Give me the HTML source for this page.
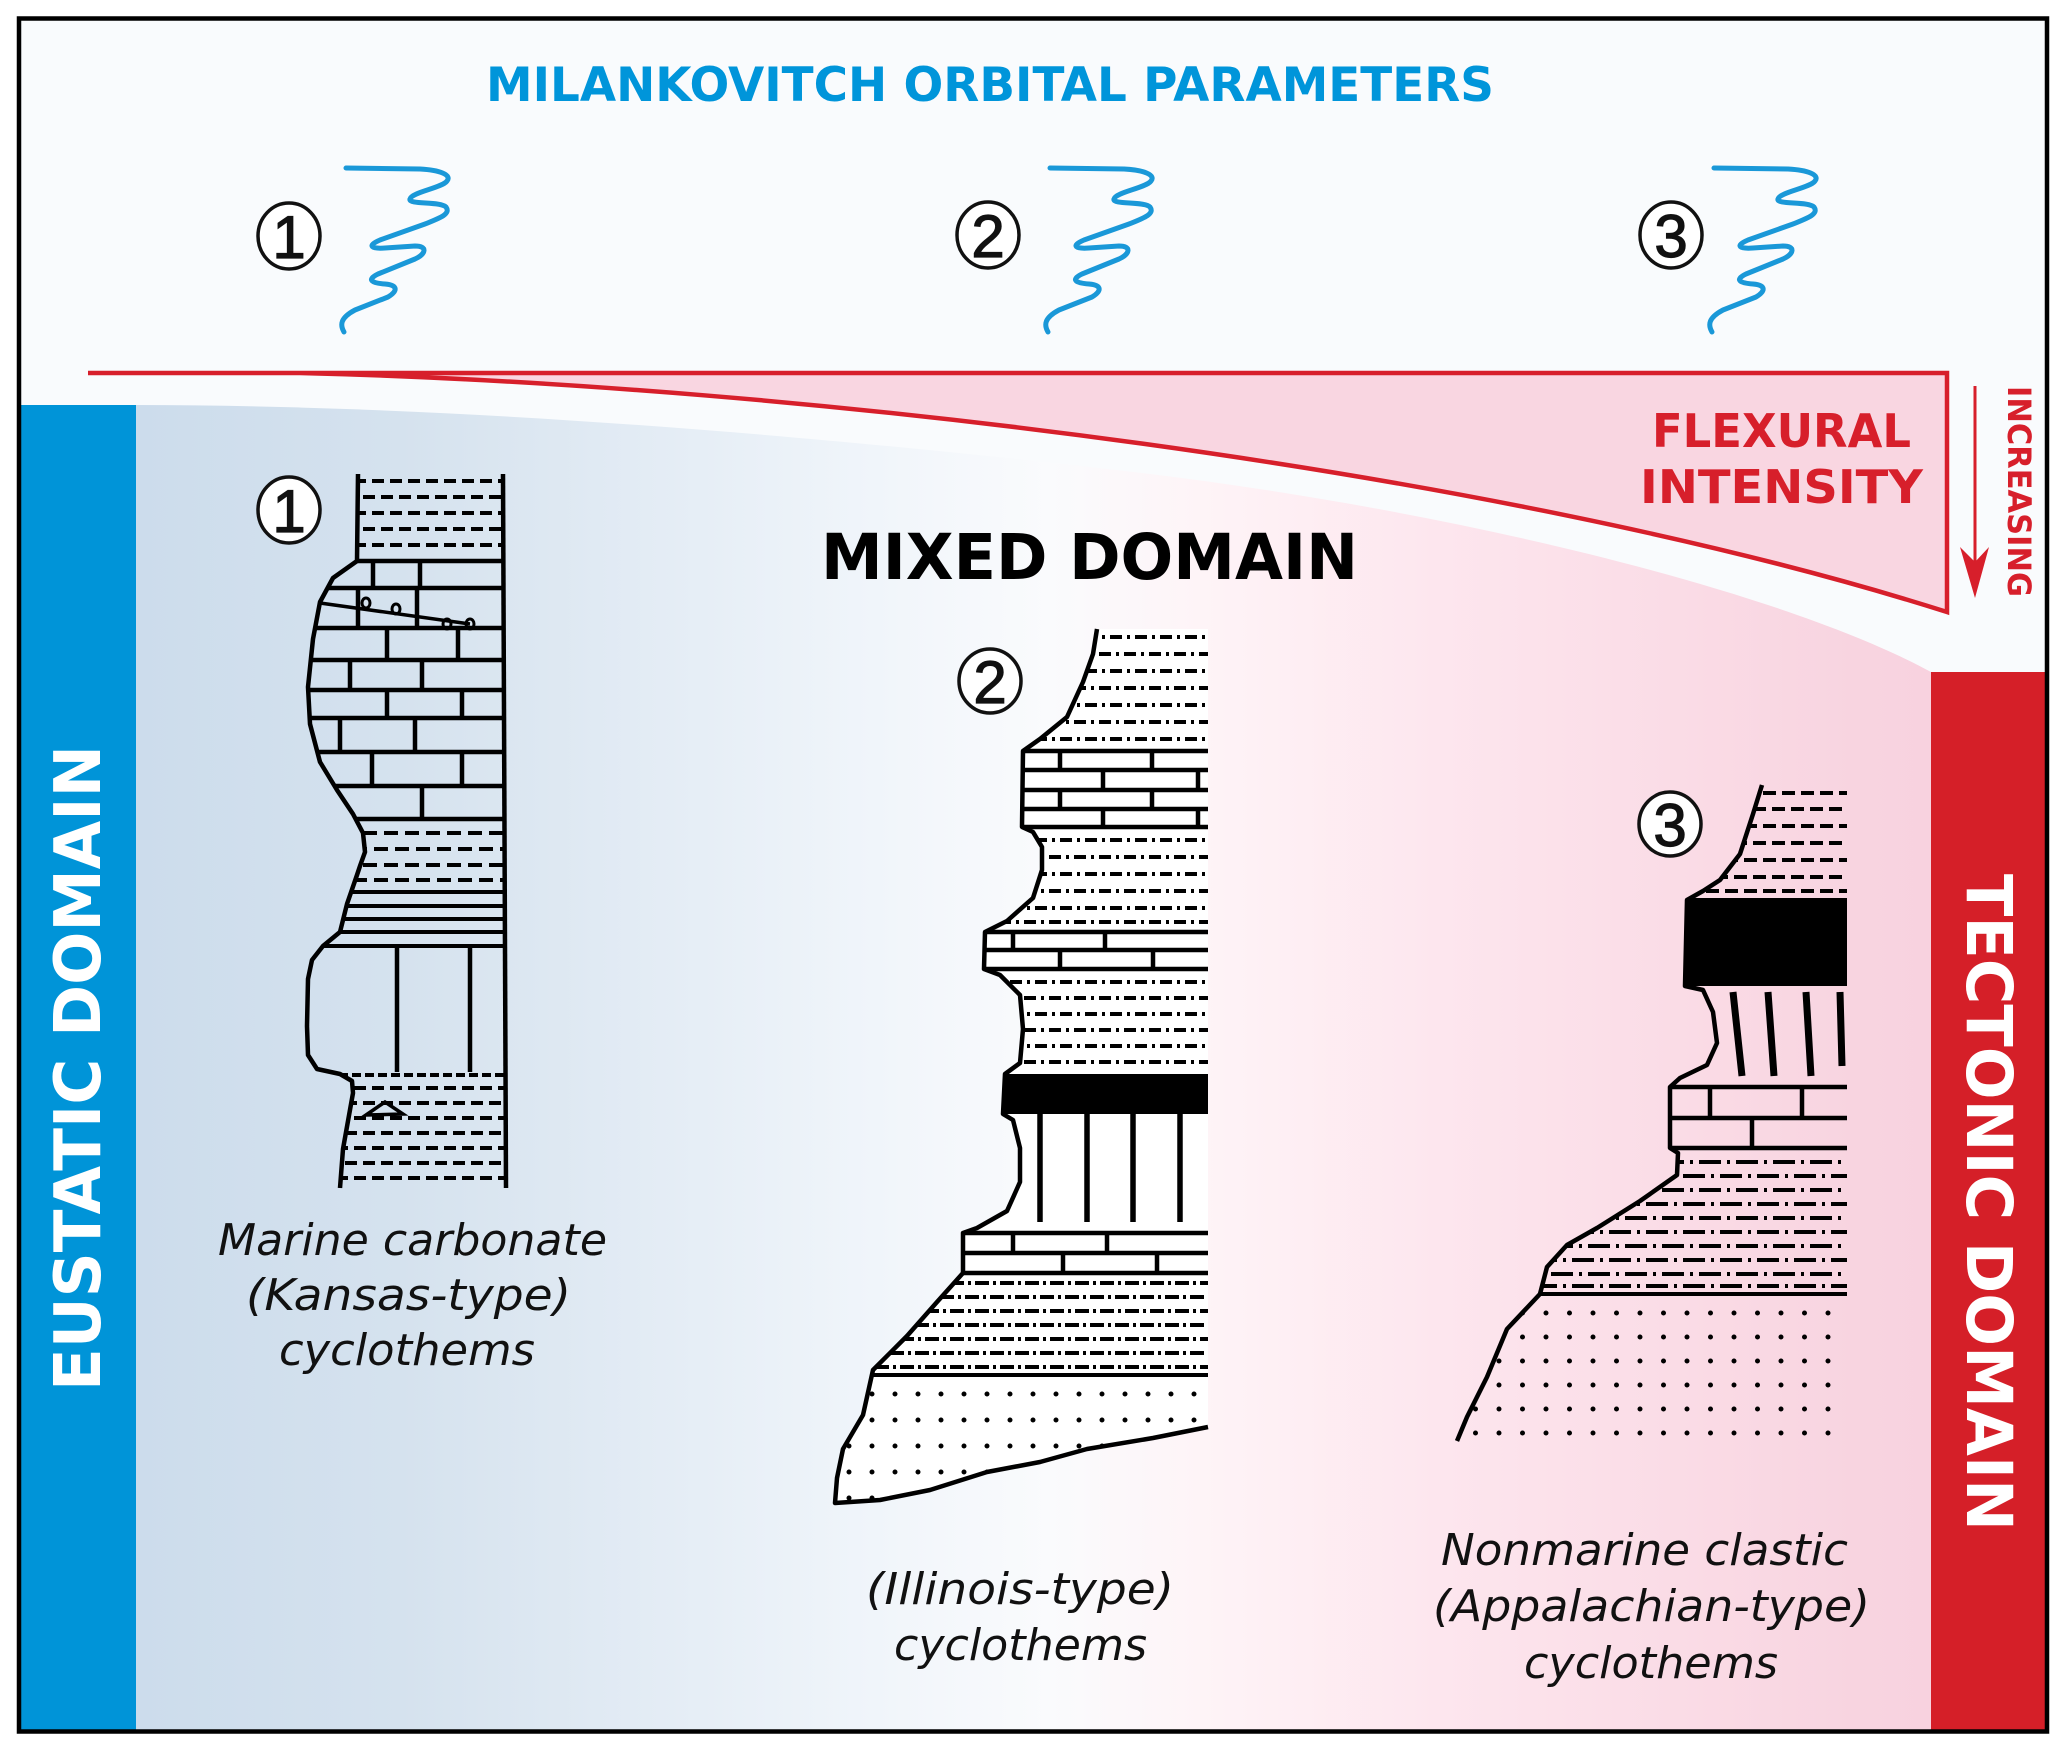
<!DOCTYPE html>
<html><head><meta charset="utf-8"><style>
html,body{margin:0;padding:0;background:#fff;}
svg{display:block;}
</style></head><body>
<svg xmlns="http://www.w3.org/2000/svg" width="2067" height="1753" viewBox="0 0 2067 1753">
<defs>
<linearGradient id="bg" gradientUnits="userSpaceOnUse" x1="136" y1="0" x2="1931" y2="0">
<stop offset="0" stop-color="#ccdcec"/>
<stop offset="0.147" stop-color="#d5e2ee"/>
<stop offset="0.275" stop-color="#e2ebf4"/>
<stop offset="0.381" stop-color="#edf3f9"/>
<stop offset="0.509" stop-color="#fafbfd"/>
<stop offset="0.593" stop-color="#fef4f7"/>
<stop offset="0.726" stop-color="#fde6ee"/>
<stop offset="0.96" stop-color="#f8d4e0"/>
<stop offset="1" stop-color="#f8d2df"/>
</linearGradient>
<clipPath id="c1"><polygon points="358,474 357,561 333,578 320,602 313,639 308,687 310,724 320,762 337,790 353,814 363,833 365,852 360,866 357,875 347,904 340,932 323,946 312,960 308,979 307,1026 308,1055 317,1069 340,1074 352,1081 353,1093 348,1121 343,1149 340,1188 506,1188 503,474"/></clipPath>
<clipPath id="c2"><polygon points="1097,629 1093,654 1083,682 1067,717 1040,739 1023,751 1022,827 1033,832 1042,847 1042,870 1033,898 1007,921 985,932 984,969 1000,975 1020,995 1023,1029 1020,1063 1005,1074 1003,1114 1013,1120 1020,1148 1020,1182 1007,1211 977,1228 963,1233 963,1273 937,1302 907,1336 873,1370 863,1415 843,1449 837,1478 835,1503 880,1500 930,1490 987,1472 1040,1462 1087,1449 1153,1438 1208,1427 1208,629"/></clipPath>
<clipPath id="c3"><polygon points="1762,785 1753,814 1740,854 1720,880 1703,891 1687,900 1685,986 1703,990 1713,1012 1717,1043 1707,1065 1680,1078 1670,1087 1670,1148 1678,1153 1677,1175 1640,1201 1597,1228 1567,1245 1547,1267 1540,1294 1507,1329 1487,1377 1467,1417 1457,1441 1457,1443 1847,1443 1847,785"/></clipPath>
</defs>

<!-- background -->
<rect x="0" y="0" width="2067" height="1753" fill="#ffffff"/>
<rect x="19" y="18" width="2028" height="1713" fill="#f9fbfd"/>

<!-- gradient panel -->
<path d="M136,405 C500,405 900,445 1142,473 C1450,510 1780,590 1931,672 L1931,1733 L136,1733 Z" fill="url(#bg)"/>

<!-- side bars -->
<rect x="20" y="405" width="116" height="1327" fill="#0094d8"/>
<rect x="1931" y="672" width="116" height="1060" fill="#d51f28"/>

<!-- flexural wedge -->
<path d="M88,373 L1947,373 L1947,612 C1500,470 800,385 300,373 Z" fill="#f9d6e1" stroke="#d71f2b" stroke-width="4.5" stroke-linejoin="miter"/>

<!-- arrow -->
<line x1="1975" y1="386" x2="1975" y2="565" stroke="#d71f2b" stroke-width="3"/>
<polygon points="1960,547 1975,562 1989,547 1975,598" fill="#d71f2b"/>

<!-- squiggles -->
<g fill="none" stroke="#1a98d8" stroke-width="5" stroke-linecap="round" stroke-linejoin="round">
<path d="M346,168 L420,169 C440,170 452,175 447,181 C442,188 412,192 410,199 C408,205 440,201 446,207 C451,214 440,218 425,224 L380,240 C366,246 372,249 385,248 L415,246 C428,246 426,254 415,259 L378,274 C366,280 372,283 385,284 C398,285 398,291 388,297 L355,310 C340,318 340,325 344,332"/>
<path transform="translate(704,0)" d="M346,168 L420,169 C440,170 452,175 447,181 C442,188 412,192 410,199 C408,205 440,201 446,207 C451,214 440,218 425,224 L380,240 C366,246 372,249 385,248 L415,246 C428,246 426,254 415,259 L378,274 C366,280 372,283 385,284 C398,285 398,291 388,297 L355,310 C340,318 340,325 344,332"/>
<path transform="translate(1368,0)" d="M346,168 L420,169 C440,170 452,175 447,181 C442,188 412,192 410,199 C408,205 440,201 446,207 C451,214 440,218 425,224 L380,240 C366,246 372,249 385,248 L415,246 C428,246 426,254 415,259 L378,274 C366,280 372,283 385,284 C398,285 398,291 388,297 L355,310 C340,318 340,325 344,332"/>
</g>

<!-- circled numbers -->
<g font-family="'Liberation Sans', Arial, sans-serif" font-size="60" text-anchor="middle" fill="#111">
<ellipse cx="289" cy="236" rx="31" ry="33" fill="#fff" stroke="#111" stroke-width="3.5"/>
<ellipse cx="988" cy="235" rx="31" ry="33" fill="#fff" stroke="#111" stroke-width="3.5"/>
<ellipse cx="1671" cy="235" rx="31" ry="33" fill="#fff" stroke="#111" stroke-width="3.5"/>
<ellipse cx="289" cy="510" rx="31" ry="33" fill="#fff" stroke="#111" stroke-width="3.5"/>
<ellipse cx="990" cy="681" rx="31" ry="32" fill="#fff" stroke="#111" stroke-width="3.5"/>
<ellipse cx="1670" cy="824" rx="31" ry="32" fill="#fff" stroke="#111" stroke-width="3.5"/>
<g stroke="#111" stroke-width="1.2">
<text x="289" y="258">1</text>
<text x="988" y="257">2</text>
<text x="1671" y="257">3</text>
<text x="289" y="532">1</text>
<text x="990" y="703">2</text>
<text x="1670" y="846">3</text>
</g>
</g>

<!-- COLUMN 1 -->
<g clip-path="url(#c1)" stroke="#000" fill="none">
<path d="M300,481H510M300,513H510M300,545H510" stroke-width="4" stroke-dasharray="12 6"/>
<path d="M300,497H510M300,529H510" stroke-width="4" stroke-dasharray="12 6" stroke-dashoffset="9"/>
<path d="M300,561H510M300,588H510M300,628H510M300,660H510M300,690H510M300,718H510M300,752H510M300,786H510M300,819H510" stroke-width="4.5"/>
<path d="M373,561V588M420,561V588M358,588V628M417,588V628M387,628V660M458,628V660M350,660V690M422,660V690M387,690V718M462,690V718M340,718V752M415,718V752M372,752V786M462,752V786M422,786V819" stroke-width="4.5"/>
<path d="M320,603 L470,624" stroke-width="3.5"/>
<path d="M300,833H510M300,865H510" stroke-width="4" stroke-dasharray="14 7"/>
<path d="M300,849H510M300,880H510" stroke-width="4" stroke-dasharray="14 7" stroke-dashoffset="10"/>
<path d="M300,892H510M300,906H510M300,919H510M300,932H510M300,946H510" stroke-width="4"/>
<path d="M397,946V1072M470,946V1072" stroke-width="4.5"/>
<path d="M300,1075H510" stroke-width="4" stroke-dasharray="9 4"/>
<path d="M300,1088H510M300,1118H510M300,1148H510M300,1178H510" stroke-width="4" stroke-dasharray="12 6"/>
<path d="M300,1103H510M300,1133H510M300,1163H510" stroke-width="4" stroke-dasharray="12 6" stroke-dashoffset="9"/>
</g>
<g stroke="#000" fill="none" stroke-width="3">
<ellipse cx="366" cy="603" rx="4" ry="5"/>
<ellipse cx="396" cy="609" rx="4" ry="5"/>
<ellipse cx="447" cy="624" rx="4" ry="5"/>
<ellipse cx="470" cy="624" rx="4" ry="5"/>
<path d="M366,1115 L385,1102 L403,1114 Z" stroke-width="3.5"/>
</g>
<polyline points="358,474 357,561 333,578 320,602 313,639 308,687 310,724 320,762 337,790 353,814 363,833 365,852 360,866 357,875 347,904 340,932 323,946 312,960 308,979 307,1026 308,1055 317,1069 340,1074 352,1081 353,1093 348,1121 343,1149 340,1188" fill="none" stroke="#000" stroke-width="4.5" stroke-linejoin="round"/>
<line x1="503" y1="474" x2="506" y2="1188" stroke="#000" stroke-width="4.5"/>

<!-- COLUMN 2 -->
<polygon points="1097,629 1093,654 1083,682 1067,717 1040,739 1023,751 1022,827 1033,832 1042,847 1042,870 1033,898 1007,921 985,932 984,969 1000,975 1020,995 1023,1029 1020,1063 1005,1074 1003,1114 1013,1120 1020,1148 1020,1182 1007,1211 977,1228 963,1233 963,1273 937,1302 907,1336 873,1370 863,1415 843,1449 837,1478 835,1503 880,1500 930,1490 987,1472 1040,1462 1087,1449 1153,1438 1208,1427 1208,629" fill="#ffffff"/>
<g clip-path="url(#c2)" stroke="#000" fill="none">
<path d="M960,637H1210M960,671H1210M960,705H1210M960,739H1210" stroke-width="4" stroke-dasharray="12 5 3 5"/>
<path d="M960,654H1210M960,688H1210M960,722H1210" stroke-width="4" stroke-dasharray="12 5 3 5" stroke-dashoffset="11"/>
<path d="M960,751H1210M960,770H1210M960,790H1210M960,809H1210M960,827H1210" stroke-width="4.5"/>
<path d="M1060,751V770M1152,751V770M1103,770V790M1198,770V790M1060,790V809M1152,790V809M1103,809V827M1198,809V827" stroke-width="4.5"/>
<path d="M960,840H1210M960,874H1210M960,908H1210" stroke-width="4" stroke-dasharray="12 5 3 5"/>
<path d="M960,857H1210M960,891H1210M960,922H1210" stroke-width="4" stroke-dasharray="12 5 3 5" stroke-dashoffset="11"/>
<path d="M960,932H1210M960,950H1210M960,969H1210" stroke-width="4.5"/>
<path d="M1013,932V950M1105,932V950M1060,950V969M1153,950V969" stroke-width="4.5"/>
<path d="M960,982H1210M960,1014H1210M960,1046H1210" stroke-width="4" stroke-dasharray="12 5 3 5"/>
<path d="M960,998H1210M960,1030H1210M960,1062H1210" stroke-width="4" stroke-dasharray="12 5 3 5" stroke-dashoffset="11"/>
<rect x="960" y="1074" width="260" height="40" fill="#000" stroke="none"/>
<path d="M1040,1114V1222M1087,1114V1222M1133,1114V1222M1180,1114V1222" stroke-width="5.5"/>
<path d="M940,1233H1210M940,1253H1210M940,1273H1210" stroke-width="4.5"/>
<path d="M1013,1233V1253M1107,1233V1253M1063,1253V1273M1157,1253V1273" stroke-width="4.5"/>
<path d="M850,1283H1210M850,1311H1210M850,1339H1210M850,1367H1210" stroke-width="4" stroke-dasharray="14 4 3 4"/>
<path d="M850,1297H1210M850,1325H1210M850,1353H1210" stroke-width="4" stroke-dasharray="14 4 3 4" stroke-dashoffset="10"/>
<path d="M820,1375H1210" stroke-width="4"/>
<path d="M826,1394H1210M826,1420H1210M826,1446H1210M826,1472H1210M826,1498H1210" stroke-width="5" stroke-linecap="round" stroke-dasharray="0 23"/>
</g>
<polyline points="1097,629 1093,654 1083,682 1067,717 1040,739 1023,751 1022,827 1033,832 1042,847 1042,870 1033,898 1007,921 985,932 984,969 1000,975 1020,995 1023,1029 1020,1063 1005,1074 1003,1114 1013,1120 1020,1148 1020,1182 1007,1211 977,1228 963,1233 963,1273 937,1302 907,1336 873,1370 863,1415 843,1449 837,1478 835,1503 880,1500 930,1490 987,1472 1040,1462 1087,1449 1153,1438 1208,1427" fill="none" stroke="#000" stroke-width="4.5" stroke-linejoin="round"/>

<!-- COLUMN 3 -->
<g clip-path="url(#c3)" stroke="#000" fill="none">
<path d="M1440,793H1850M1440,826H1850M1440,860H1850M1440,891H1850" stroke-width="4" stroke-dasharray="13 6"/>
<path d="M1440,809H1850M1440,843H1850M1440,877H1850" stroke-width="4" stroke-dasharray="13 6" stroke-dashoffset="10"/>
<rect x="1650" y="898" width="200" height="88" fill="#000" stroke="none"/>
<path d="M1733,992L1742,1076M1768,992L1774,1076M1806,992L1811,1076M1840,992L1842,1066" stroke-width="7"/>
<path d="M1650,1087H1850M1650,1118H1850M1650,1148H1850" stroke-width="4.5"/>
<path d="M1710,1087V1118M1802,1087V1118M1752,1118V1148" stroke-width="4.5"/>
<path d="M1440,1162H1850M1440,1190H1850M1440,1218H1850M1440,1246H1850M1440,1274H1850" stroke-width="4" stroke-dasharray="22 6 3 6"/>
<path d="M1440,1176H1850M1440,1204H1850M1440,1232H1850M1440,1260H1850M1440,1286H1850" stroke-width="4" stroke-dasharray="22 6 3 6" stroke-dashoffset="16"/>
<path d="M1440,1294H1850" stroke-width="4"/>
<path d="M1452,1313H1850M1452,1337H1850M1452,1361H1850M1452,1385H1850M1452,1409H1850M1452,1433H1850" stroke-width="5" stroke-linecap="round" stroke-dasharray="0 23.5"/>
</g>
<polyline points="1762,785 1753,814 1740,854 1720,880 1703,891 1687,900 1685,986 1703,990 1713,1012 1717,1043 1707,1065 1680,1078 1670,1087 1670,1148 1678,1153 1677,1175 1640,1201 1597,1228 1567,1245 1547,1267 1540,1294 1507,1329 1487,1377 1467,1417 1457,1441" fill="none" stroke="#000" stroke-width="4.5" stroke-linejoin="round"/>

<!-- texts -->
<g font-family="'DejaVu Sans', Verdana, sans-serif" font-weight="bold">
<text x="486" y="101" font-size="47" fill="#0095da" textLength="1008" lengthAdjust="spacingAndGlyphs">MILANKOVITCH ORBITAL PARAMETERS</text>
<text x="1652" y="447" font-size="46" fill="#d71f2b" textLength="259" lengthAdjust="spacingAndGlyphs">FLEXURAL</text>
<text x="1640" y="503" font-size="46" fill="#d71f2b" textLength="283" lengthAdjust="spacingAndGlyphs">INTENSITY</text>
<text transform="translate(2008,386) rotate(90)" x="0" y="0" font-size="32" fill="#d71f2b" textLength="211" lengthAdjust="spacingAndGlyphs">INCREASING</text>
<text x="821" y="579" font-size="63" fill="#000" textLength="537" lengthAdjust="spacingAndGlyphs">MIXED DOMAIN</text>
<text transform="translate(100,1391) rotate(-90)" x="0" y="0" font-size="64" fill="#fff" textLength="646" lengthAdjust="spacingAndGlyphs">EUSTATIC DOMAIN</text>
<text transform="translate(1967,874) rotate(90)" x="0" y="0" font-size="63" fill="#fff" textLength="657" lengthAdjust="spacingAndGlyphs">TECTONIC DOMAIN</text>
</g>
<g font-family="'DejaVu Sans', Verdana, sans-serif" font-style="italic" font-size="44" fill="#111">
<text x="218" y="1255" textLength="389" lengthAdjust="spacingAndGlyphs">Marine carbonate</text>
<text x="246" y="1310" textLength="325" lengthAdjust="spacingAndGlyphs">(Kansas-type)</text>
<text x="279" y="1365" textLength="256" lengthAdjust="spacingAndGlyphs">cyclothems</text>
<text x="866" y="1604" textLength="308" lengthAdjust="spacingAndGlyphs">(Illinois-type)</text>
<text x="894" y="1660" textLength="253" lengthAdjust="spacingAndGlyphs">cyclothems</text>
<text x="1441" y="1565" textLength="407" lengthAdjust="spacingAndGlyphs">Nonmarine clastic</text>
<text x="1433" y="1621" textLength="437" lengthAdjust="spacingAndGlyphs">(Appalachian-type)</text>
<text x="1524" y="1678" textLength="254" lengthAdjust="spacingAndGlyphs">cyclothems</text>
</g>

<!-- border -->
<rect x="19" y="18.5" width="2028" height="1713" fill="none" stroke="#000" stroke-width="4.5"/>
</svg>
</body></html>
